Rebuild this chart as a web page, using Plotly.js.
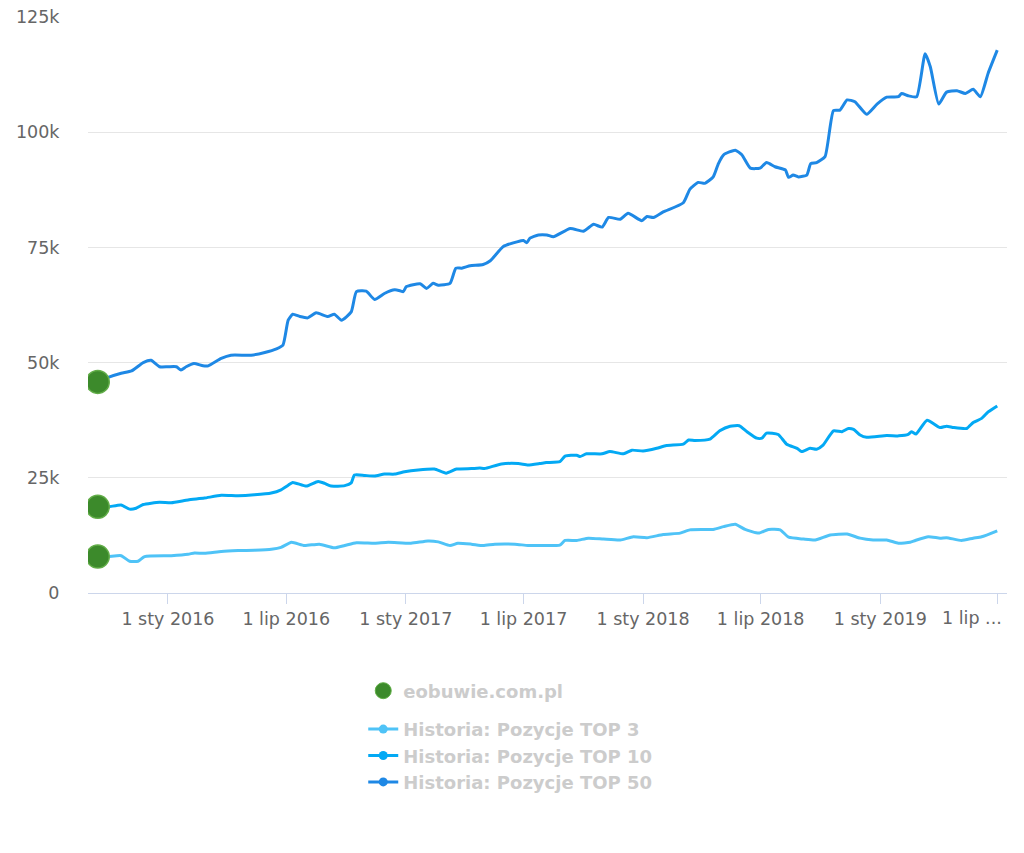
<!DOCTYPE html>
<html>
<head>
<meta charset="utf-8">
<script src="https://cdn.plot.ly/plotly-3.0.1.min.js"></script>
<style>html,body{margin:0;padding:0;background:#fff;}#chart{width:1024px;height:853px;}</style>
</head>
<body>
<div id="chart"></div>
<script>
// Values in thousands of keywords
const siteName = 'eobuwie.com.pl';
const seriesNames = ['Historia: Pozycje TOP 3', 'Historia: Pozycje TOP 10', 'Historia: Pozycje TOP 50'];

const top50Dates = ['2015-09-15','2015-10-01','2015-10-21','2015-11-06','2015-11-24','2015-12-06','2015-12-19','2016-01-01','2016-01-14','2016-01-21','2016-01-29','2016-02-10','2016-02-24','2016-03-03','2016-03-23','2016-04-07','2016-05-08','2016-05-29','2016-06-16','2016-06-26','2016-07-04','2016-07-11','2016-07-22','2016-08-03','2016-08-16','2016-09-03','2016-09-13','2016-09-24','2016-10-09','2016-10-17','2016-11-01','2016-11-14','2016-11-29','2016-12-15','2016-12-23','2016-12-28','2017-01-02','2017-01-23','2017-02-02','2017-02-12','2017-02-20','2017-03-10','2017-03-19','2017-03-28','2017-04-10','2017-04-30','2017-05-11','2017-05-31','2017-06-21','2017-07-01','2017-07-06','2017-07-11','2017-07-24','2017-08-06','2017-08-16','2017-09-11','2017-10-01','2017-10-17','2017-10-30','2017-11-09','2017-11-27','2017-12-09','2017-12-30','2018-01-07','2018-01-17','2018-02-01','2018-03-04','2018-03-14','2018-03-27','2018-04-06','2018-04-19','2018-04-27','2018-05-05','2018-05-23','2018-06-02','2018-06-15','2018-06-30','2018-07-10','2018-07-23','2018-08-08','2018-08-13','2018-08-20','2018-08-28','2018-09-10','2018-09-16','2018-09-25','2018-10-08','2018-10-21','2018-10-31','2018-11-11','2018-11-23','2018-12-11','2018-12-27','2019-01-11','2019-01-29','2019-02-03','2019-02-13','2019-02-26','2019-03-11','2019-03-19','2019-04-01','2019-04-13','2019-04-29','2019-05-12','2019-05-24','2019-06-04','2019-06-16','2019-06-30'];
const top50 = [45.8,46.8,47.7,48.2,50.0,50.5,49.1,49.1,49.1,48.4,49.1,49.8,49.3,49.3,50.9,51.6,51.6,52.2,53.0,53.8,59.2,60.5,60.0,59.7,60.8,60.0,60.5,59.2,61.0,65.4,65.5,63.7,65.0,65.8,65.6,65.4,66.5,67.1,66.1,67.2,66.8,67.2,70.5,70.5,71.0,71.3,72.1,75.2,76.2,76.5,76.0,77.0,77.7,77.7,77.3,79.1,78.5,80.0,79.4,81.5,81.1,82.4,80.8,81.7,81.5,82.7,84.7,87.6,89.1,88.9,90.3,93.2,95.1,96.1,95.1,92.2,92.2,93.4,92.5,91.8,90.2,90.7,90.3,90.7,93.2,93.4,94.7,104.7,104.8,107.0,106.6,103.9,106.1,107.6,107.7,108.4,107.9,107.7,117.0,114.2,106.1,108.7,109.0,108.4,109.3,107.7,112.8,117.8];

const top10Dates = ['2015-09-15','2015-10-01','2015-10-21','2015-11-03','2015-11-13','2015-11-24','2015-12-19','2016-01-06','2016-02-01','2016-02-26','2016-03-23','2016-04-18','2016-05-13','2016-06-08','2016-06-23','2016-07-04','2016-07-11','2016-08-01','2016-08-19','2016-08-29','2016-09-08','2016-09-29','2016-10-09','2016-10-14','2016-10-30','2016-11-14','2016-11-29','2016-12-15','2016-12-30','2017-01-20','2017-02-14','2017-03-04','2017-03-20','2017-04-12','2017-04-25','2017-05-02','2017-05-28','2017-06-23','2017-07-08','2017-07-26','2017-08-05','2017-08-26','2017-09-03','2017-09-21','2017-09-26','2017-10-06','2017-10-30','2017-11-11','2017-12-02','2017-12-15','2018-01-01','2018-01-22','2018-02-06','2018-03-04','2018-03-12','2018-03-22','2018-04-14','2018-04-29','2018-05-15','2018-05-29','2018-06-10','2018-06-25','2018-07-03','2018-07-10','2018-07-28','2018-08-10','2018-08-26','2018-09-02','2018-09-15','2018-09-25','2018-10-05','2018-10-21','2018-11-03','2018-11-13','2018-11-21','2018-12-01','2018-12-11','2019-01-11','2019-01-29','2019-02-13','2019-02-18','2019-02-25','2019-03-14','2019-04-03','2019-04-13','2019-04-24','2019-05-14','2019-05-24','2019-06-06','2019-06-16','2019-06-30'];
const top10 = [18.7,18.7,19.1,18.2,18.4,19.2,19.7,19.6,20.2,20.6,21.2,21.1,21.3,21.7,22.4,23.4,24.0,23.2,24.2,23.8,23.2,23.3,23.9,25.6,25.5,25.4,25.8,25.8,26.3,26.7,26.9,26.0,26.9,27.0,27.1,27.0,28.0,28.1,27.8,28.1,28.3,28.5,29.7,29.9,29.6,30.2,30.2,30.7,30.2,31.0,30.8,31.4,32.0,32.3,33.2,33.1,33.4,35.2,36.2,36.3,35.0,33.6,33.6,34.7,34.4,32.3,31.4,30.7,31.4,31.2,32.1,35.2,35.0,35.7,35.5,34.3,33.8,34.2,34.1,34.4,35.0,34.5,37.5,35.9,36.2,35.9,35.7,37.0,37.9,39.3,40.6];

const top3Dates = ['2015-09-15','2015-10-01','2015-10-21','2015-11-03','2015-11-16','2015-11-26','2016-01-06','2016-02-01','2016-02-11','2016-02-26','2016-03-23','2016-04-18','2016-05-13','2016-06-08','2016-06-23','2016-07-09','2016-07-29','2016-08-21','2016-09-13','2016-09-29','2016-10-17','2016-11-14','2016-12-05','2017-01-09','2017-02-04','2017-02-20','2017-03-10','2017-03-22','2017-04-12','2017-04-30','2017-05-18','2017-06-18','2017-07-08','2017-07-26','2017-08-26','2017-09-03','2017-09-21','2017-10-09','2017-11-01','2017-11-27','2017-12-17','2018-01-07','2018-02-01','2018-02-27','2018-03-14','2018-04-19','2018-05-05','2018-05-23','2018-06-07','2018-06-28','2018-07-13','2018-07-31','2018-08-13','2018-09-05','2018-09-23','2018-10-16','2018-11-11','2018-12-01','2018-12-21','2019-01-11','2019-01-29','2019-02-16','2019-02-24','2019-03-16','2019-04-03','2019-04-13','2019-05-06','2019-05-24','2019-06-06','2019-06-30'];
const top3 = [7.9,7.9,8.1,6.9,6.9,7.9,8.1,8.4,8.7,8.6,9.0,9.2,9.3,9.5,9.9,11.0,10.3,10.6,9.8,10.3,10.9,10.8,11.0,10.8,11.3,11.1,10.3,10.8,10.6,10.3,10.6,10.6,10.3,10.3,10.4,11.4,11.4,11.9,11.7,11.5,12.2,12.0,12.7,13.0,13.7,13.8,14.4,14.9,13.8,13.0,13.8,13.7,12.1,11.7,11.5,12.6,12.8,11.9,11.5,11.5,10.8,11.0,11.4,12.2,11.9,12.0,11.4,11.9,12.2,13.5];

const xTickVals = ['2016-01-01','2016-07-01','2017-01-01','2017-07-01','2018-01-01','2018-07-01','2019-01-01','2019-07-01'];
const xTickText = ['1 sty 2016','1 lip 2016','1 sty 2017','1 lip 2017','1 sty 2018','1 lip 2018','1 sty 2019','1 lip ...'];
const yTickVals = [0,25,50,75,100,125];
const yTickText = ['0','25k','50k','75k','100k','125k'];

const colors = ['#4fc3f7','#03a9f4','#1e88e5'];
const leafColor = '#3c8a2b';
const allDates = [top3Dates, top10Dates, top50Dates];
const allVals = [top3, top10, top50];

const traces = [];
// legend-only entries
traces.push({x:[null], y:[null], type:'scatter', mode:'markers', name:siteName, legendgroup:'site',
  marker:{color:leafColor, size:16, line:{color:'#5fae45', width:1}}, hoverinfo:'skip'});
for (let i = 0; i < 3; i++) {
  traces.push({x:[null], y:[null], type:'scatter', mode:'lines+markers', name:seriesNames[i], legendgroup:'series',
    line:{color:colors[i], width:3}, marker:{color:colors[i], size:9}, hoverinfo:'skip'});
}
// series lines
for (let i = 2; i >= 0; i--) {
  traces.push({x:allDates[i], y:allVals[i], type:'scatter', mode:'lines', name:seriesNames[i], legendgroup:'series', showlegend:false,
    line:{color:colors[i], width:3, shape:'spline', smoothing:0.5}});
}
// leaf markers at series start
traces.push({x:allDates.map(d => d[0]), y:allVals.map(v => v[0]), type:'scatter', mode:'markers', name:siteName,
  legendgroup:'site', showlegend:false, marker:{color:leafColor, size:23, line:{color:'#62ad48', width:1.5}}});

const tickFont = {family:'DejaVu Sans, Verdana, sans-serif', size:17.5, color:'#666666'};
const lastIdx = xTickVals.length - 1;
// the last tick label is right-aligned to its tick (kept inside the chart, as in the original)
const shownTickText = xTickText.map((t, i) => i === lastIdx ? '' : t);
const layout = {
  width:1024, height:853,
  margin:{l:88, r:17, t:17, b:260, pad:0},
  paper_bgcolor:'#ffffff', plot_bgcolor:'#ffffff',
  showlegend:true,
  xaxis:{type:'date', range:['2015-08-31','2019-07-15'], tickmode:'array', tickvals:xTickVals, ticktext:shownTickText,
    ticks:'outside', ticklen:10, tickcolor:'#ccd6eb', tickwidth:1, showline:true, linecolor:'#ccd6eb', linewidth:1,
    showgrid:false, zeroline:false, tickfont:tickFont},
  yaxis:{range:[0,125], tickmode:'array', tickvals:yTickVals, ticktext:yTickText, showgrid:true, gridcolor:'#e6e6e6',
    gridwidth:1, zeroline:false, showline:false, ticks:'outside', ticklen:24, tickcolor:'rgba(0,0,0,0)', tickfont:tickFont},
  annotations:[{xref:'x', yref:'paper', x:xTickVals[lastIdx], y:0, xanchor:'right', yanchor:'middle', xshift:6, yshift:-25,
    text:xTickText[lastIdx], showarrow:false, font:tickFont}],
  legend:{x:0.2995, y:-0.138, xanchor:'left', yanchor:'top', traceorder:'grouped', tracegroupgap:12,
    bgcolor:'rgba(0,0,0,0)', font:{family:'DejaVu Sans, Verdana, sans-serif', size:18, color:'#cccccc', weight:'bold'}, itemwidth:30}
};
Plotly.newPlot('chart', traces, layout, {staticPlot:true, displayModeBar:false});
</script>
</body>
</html>
